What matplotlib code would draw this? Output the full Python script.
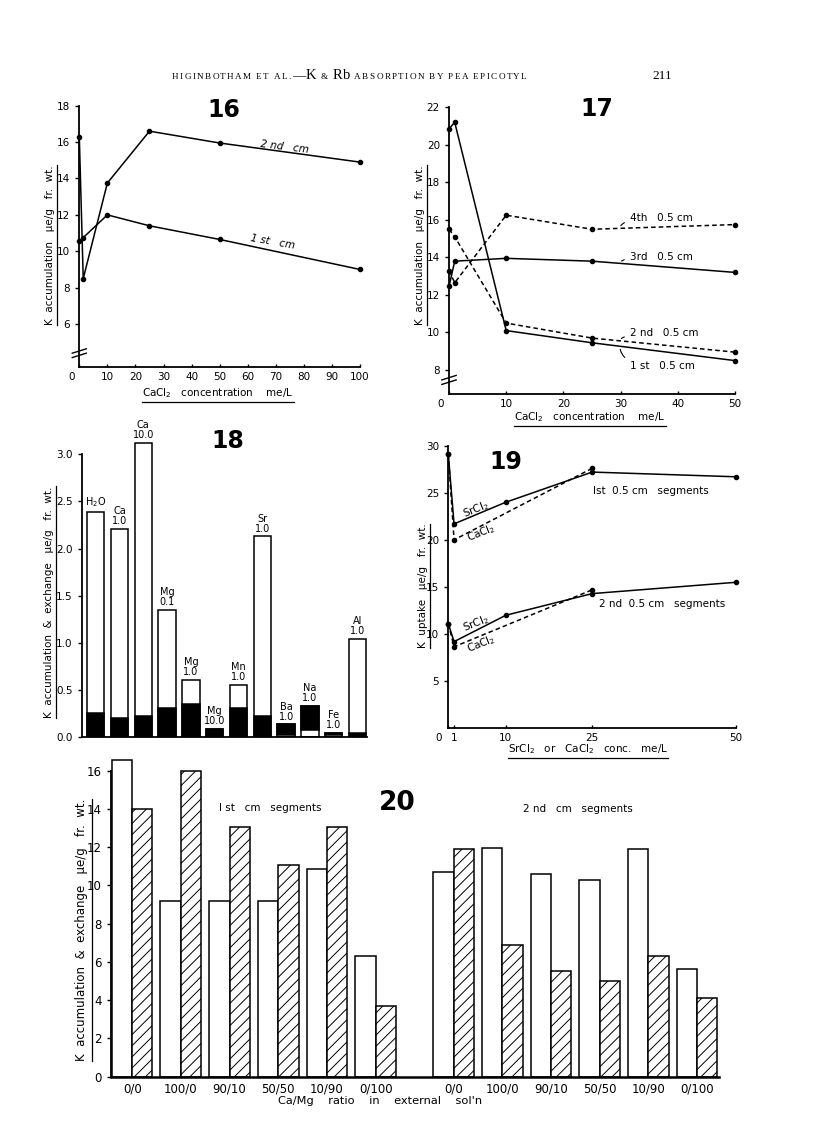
import numpy as np
import matplotlib.pyplot as plt
from matplotlib.lines import Line2D
from matplotlib.transforms import ScaledTranslation

plt.rcParams['font.family'] = ['DejaVu Sans']
plt.rcParams['hatch.linewidth'] = 0.7
plt.rcParams['axes.linewidth'] = 1.3

# ---------------- data ----------------
# fig 16 : K accumulation vs CaCl2
x16 = [0, 1.4, 10, 25, 50, 100]
first_cm16 = [10.55, 10.75, 12.0, 11.4, 10.65, 9.0]
second_cm16 = [16.3, 8.5, 13.75, 16.6, 15.95, 14.9]

# fig 17 : 0.5 cm segments
x17 = [0, 1, 10, 25, 50]
seg1_17 = [20.85, 21.2, 10.1, 9.45, 8.5]
seg2_17 = [15.5, 15.1, 10.5, 9.7, 8.95]
seg3_17 = [12.45, 13.8, 13.95, 13.8, 13.2]
seg4_17 = [13.3, 12.65, 16.25, 15.5, 15.75]

# fig 18 : salts
ions18 = ['H$_2$O', 'Ca', 'Ca', 'Mg', 'Mg', 'Mg', 'Mn', 'Sr', 'Ba', 'Na', 'Fe', 'Al']
conc18 = ['', '1.0', '10.0', '0.1', '1.0', '10.0', '1.0', '1.0', '1.0', '1.0', '1.0', '1.0']
total18 = [2.39, 2.21, 3.12, 1.35, 0.60, 0.08, 0.55, 2.13, 0.13, 0.33, 0.04, 1.04]
black18 = [0.25, 0.20, 0.22, 0.30, 0.35, 0.08, 0.30, 0.22, 0.0, 0.0, 0.0, 0.04]
white_base18 = [0, 0, 0, 0, 0, 0, 0, 0, 0.02, 0.075, 0.015, 0]

# fig 19 : SrCl2 vs CaCl2
x19_sr = [0, 1, 10, 25, 50]
x19_ca = [0, 1, 25]
sr_1st = [29.1, 21.7, 24.0, 27.2, 26.7]
ca_1st = [29.1, 20.0, 27.6]
sr_2nd = [11.1, 9.2, 12.0, 14.3, 15.5]
ca_2nd = [11.1, 8.65, 14.7]

# fig 20 : Ca/Mg ratio
ratios20 = ['0/0', '100/0', '90/10', '50/50', '10/90', '0/100']
accum_1st = [16.55, 9.2, 9.2, 9.2, 10.85, 6.3]
exch_1st = [14.0, 16.0, 13.05, 11.05, 13.05, 3.7]
accum_2nd = [10.7, 11.95, 10.6, 10.3, 11.9, 5.65]
exch_2nd = [11.9, 6.9, 5.55, 5.0, 6.3, 4.1]

# ---------------- figure ----------------
W, H = 816, 1121
fig = plt.figure(figsize=(W / 100, H / 100), dpi=100)
R = fig.canvas.get_renderer()


def box(l, t, r, b):
    return [l / W, 1 - b / H, (r - l) / W, (b - t) / H]


def base_axes(rect, fs=7.5):
    ax = fig.add_axes(rect)
    for s in ['top', 'right']:
        ax.spines[s].set_visible(False)
    ax.tick_params(labelsize=fs, length=3, width=1)
    return ax


def shift_first_xlabel(ax, dx=-8):
    lab = ax.get_xticklabels()[0]
    lab.set_transform(lab.get_transform() + ScaledTranslation(dx / 100, 0, fig.dpi_scale_trans))


def ulabel(xp, yp, s, rot=0, fs=7.5, gap=2.0):
    t = fig.text(xp / W, 1 - yp / H, s, rotation=rot, ha='center', va='center', fontsize=fs)
    bb = t.get_window_extent(R)
    if rot == 0:
        xs, ys = [bb.x0, bb.x1], [bb.y0 - gap] * 2
    else:
        xs, ys = [bb.x1 + gap] * 2, [bb.y0, bb.y1]
    fig.add_artist(Line2D(np.array(xs) / W, np.array(ys) / H, transform=fig.transFigure,
                          color='black', lw=0.9))


def axis_break(ax, y):
    tr = ax.get_yaxis_transform()
    for dy in (-0.12, 0.12):
        ax.plot([-0.025, 0.025], [y + dy - 0.12, y + dy + 0.12], color='black', lw=1.0,
                transform=tr, clip_on=False)


line_kw = dict(color='black', lw=1.1, marker='o', ms=3, clip_on=False)
dash = (0, (3, 2))

# ---- 16
ax16 = base_axes(box(79.3, 105.7, 360, 367))
ax16.plot(x16, second_cm16, **line_kw)
ax16.plot(x16, first_cm16, **line_kw)
ax16.set_xlim(0, 100)
ax16.set_ylim(3.64, 18)
ax16.set_yticks(range(6, 19, 2))
ax16.set_xticks(range(0, 101, 10))
ax16.tick_params(axis='x', direction='in', length=2)
shift_first_xlabel(ax16)
axis_break(ax16, 4.4)
ax16.text(73, 15.75, '2 nd   cm', fontsize=7.5, style='italic', rotation=-7, ha='center', va='center')
ax16.text(69, 10.5, '1 st   cm', fontsize=7.5, style='italic', rotation=-10, ha='center', va='center')
fig.text(224 / W, 1 - 110 / H, '16', fontsize=17, fontweight='bold', ha='center', va='center')
ulabel(218, 393, 'CaCl$_2$   concentration    me/L')
ulabel(50, 245, 'K  accumulation   μe/g   fr.  wt.', rot=90)

# ---- 17
ax17 = base_axes(box(449, 107.3, 735, 394))
ax17.plot(x17, seg1_17, **line_kw)
ax17.plot(x17, seg3_17, **line_kw)
ax17.plot(x17, seg2_17, ls=dash, **line_kw)
ax17.plot(x17, seg4_17, ls=dash, **line_kw)
ax17.set_xlim(0, 50)
ax17.set_ylim(6.72, 22)
ax17.set_yticks(range(8, 23, 2))
ax17.set_xticks(range(0, 51, 10))
ax17.tick_params(axis='x', direction='in', length=2)
shift_first_xlabel(ax17)
axis_break(ax17, 7.47)
hook = dict(arrowstyle='-', lw=0.8, color='black', connectionstyle='angle3,angleA=0,angleB=90')
for txt, xy, yt in [('4th   0.5 cm', (29.9, 15.55), 16.1),
                    ('3rd   0.5 cm', (29.9, 13.68), 14.04),
                    ('2 nd   0.5 cm', (29.9, 9.55), 9.95),
                    ('1 st   0.5 cm', (29.9, 9.25), 8.21)]:
    ax17.annotate(txt, xy=xy, xytext=(31.6, yt), fontsize=7.5, va='center', ha='left',
                  arrowprops=hook)
fig.text(597 / W, 1 - 109 / H, '17', fontsize=17, fontweight='bold', ha='center', va='center')
ulabel(590, 417, 'CaCl$_2$   concentration    me/L')
ulabel(420, 245, 'K  accumulation   μe/g   fr.  wt.', rot=90)

# ---- 18
ax18 = base_axes(box(81.6, 421.5, 366.6, 736.7))
xb = np.arange(len(total18))
ax18.bar(xb, total18, width=0.73, color='white', edgecolor='black', lw=1.1)
ax18.bar(xb, black18, width=0.73, color='black', edgecolor='black', lw=1.1)
tb = np.array(total18) - np.array(white_base18)
top_black = np.where(np.array(white_base18) > 0, tb, 0)
ax18.bar(xb, top_black, bottom=white_base18, width=0.73, color='black', edgecolor='black', lw=1.1)
for i in xb:
    lab = ions18[i] if conc18[i] == '' else ions18[i] + '\n' + conc18[i]
    ax18.annotate(lab, (i, total18[i]), xytext=(0, 2), textcoords='offset points',
                  ha='center', va='bottom', fontsize=7, linespacing=1.0)
ax18.set_xlim(-0.595, 11.38)
ax18.set_ylim(0, 3.35)
ax18.spines['left'].set_bounds(0, 3.0)
ax18.set_yticks(np.arange(0, 3.01, 0.5))
ax18.set_yticklabels(['%.1f' % v for v in np.arange(0, 3.01, 0.5)])
ax18.set_xticks([])
fig.text(228 / W, 1 - 441 / H, '18', fontsize=17, fontweight='bold', ha='center', va='center')
ulabel(49, 602, 'K  accumulation  &  exchange   μe/g   fr.  wt.', rot=90)

# ---- 19
ax19 = base_axes(box(448.3, 445.7, 736, 728.3))
ax19.plot(x19_sr, sr_1st, **line_kw)
ax19.plot(x19_ca, ca_1st, ls=dash, **line_kw)
ax19.plot(x19_sr, sr_2nd, **line_kw)
ax19.plot(x19_ca, ca_2nd, ls=dash, **line_kw)
ax19.set_xlim(0, 50)
ax19.set_ylim(0, 30)
ax19.set_yticks(range(5, 31, 5))
ax19.set_xticks([0, 1, 10, 25, 50])
ax19.tick_params(axis='x', direction='in', length=2)
shift_first_xlabel(ax19, -10)
ax19.text(4.8, 23.2, 'SrCl$_2$', fontsize=7.5, rotation=22, ha='center', va='center')
ax19.text(5.7, 20.7, 'CaCl$_2$', fontsize=7.5, rotation=22, ha='center', va='center')
ax19.text(4.8, 11.1, 'SrCl$_2$', fontsize=7.5, rotation=22, ha='center', va='center')
ax19.text(5.7, 8.9, 'CaCl$_2$', fontsize=7.5, rotation=22, ha='center', va='center')
ax19.text(25.1, 25.2, 'Ist  0.5 cm   segments', fontsize=7.5, ha='left', va='center')
ax19.text(26.2, 13.2, '2 nd  0.5 cm   segments', fontsize=7.5, ha='left', va='center')
fig.text(506 / W, 1 - 462 / H, '19', fontsize=17, fontweight='bold', ha='center', va='center')
ulabel(588, 749, 'SrCl$_2$   or   CaCl$_2$   conc.   me/L')
ulabel(423, 586, 'K  uptake   μe/g   fr.  wt.', rot=90)

# ---- 20
ax20 = base_axes(box(110.7, 755.4, 719, 1076.7), fs=8.5)
ax20.spines['bottom'].set_linewidth(1.8)
bw = 0.418
pos1 = np.arange(6)
pos2 = np.arange(6) + 6.6
for pos, acc, exc in [(pos1, accum_1st, exch_1st), (pos2, accum_2nd, exch_2nd)]:
    ax20.bar(pos - bw / 2, acc, width=bw, color='white', edgecolor='black', lw=1.1)
    ax20.bar(pos + bw / 2, exc, width=bw, color='white', edgecolor='black', lw=1.1, hatch='///')
ax20.set_xlim(-0.44, 12.05)
ax20.set_ylim(0, 16.8)
ax20.spines['left'].set_bounds(0, 16)
ax20.set_yticks(range(0, 17, 2))
ax20.set_xticks(np.concatenate([pos1, pos2]))
ax20.set_xticklabels(ratios20 * 2, fontsize=8.5)
ax20.tick_params(axis='x', length=0, pad=4)
ax20.text(2.83, 14.05, 'I st   cm   segments', fontsize=7.5, ha='center', va='center')
ax20.text(9.16, 14.0, '2 nd   cm   segments', fontsize=7.5, ha='center', va='center')
fig.text(397 / W, 1 - 803 / H, '20', fontsize=19, fontweight='bold', ha='center', va='center')
fig.text(380 / W, 1 - 1101 / H, "Ca/Mg    ratio    in    external    sol'n", fontsize=8.2,
         ha='center', va='center')
ulabel(82, 930, 'K  accumulation  &  exchange   μe/g   fr.  wt.', rot=90, fs=8.5, gap=3)

# ---- running head (small caps imitated with tracked capitals)
xh = 172.0
yb = H - 79
track = 1.4
for s, fs in [('HIGINBOTHAM ET AL.', 6.6), ('—', 9.5), ('K', 10.5), (' & ', 6.6), ('Rb', 10.5),
              (' ABSORPTION BY PEA EPICOTYL', 6.6)]:
    for ch in s:
        if ch == ' ':
            xh += fs * 0.55
            continue
        t = fig.text(xh / W, yb / H, ch, fontsize=fs, family=['Liberation Serif', 'DejaVu Serif'],
                     va='baseline')
        xh = t.get_window_extent(R).x1 + (track if fs < 8 else 0.5)
fig.text(652 / W, yb / H, '211', fontsize=9.5, family='Liberation Serif', va='baseline')

fig.savefig('out.png', dpi=100)
